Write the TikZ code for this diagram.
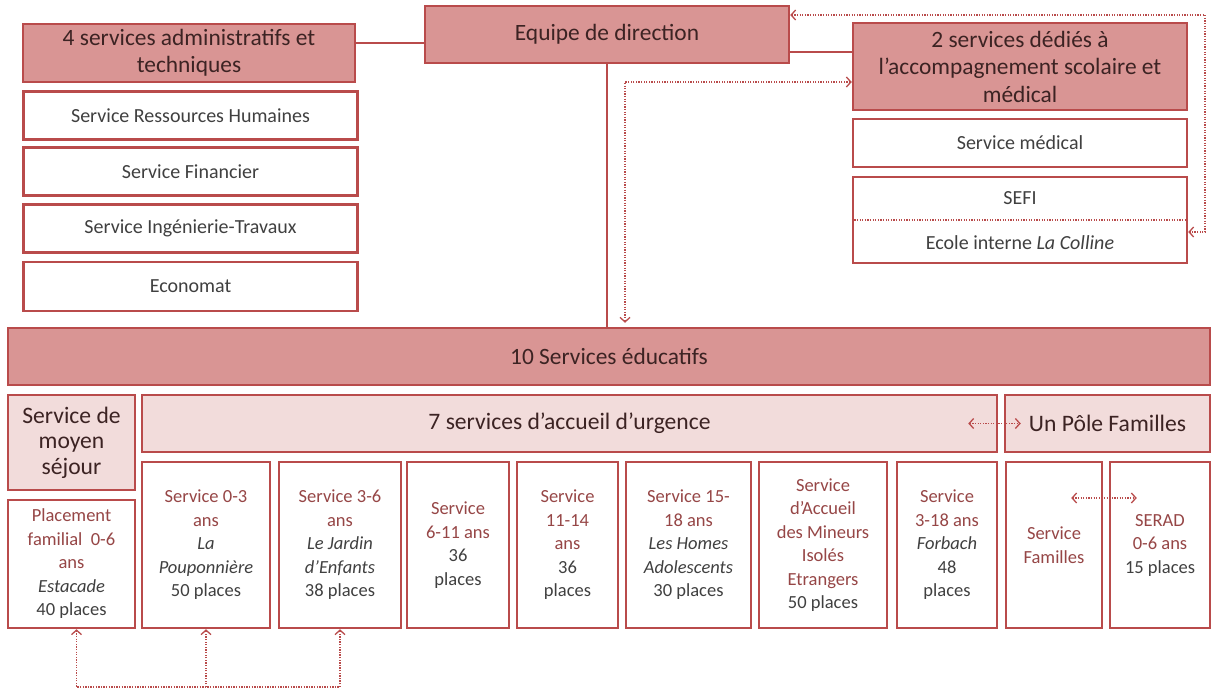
\documentclass[tikz,border=0pt]{standalone}
\usepackage{fontspec}
\setmainfont{Carlito}
\definecolor{boxred}{RGB}{185,75,75}
\definecolor{headpink}{RGB}{217,149,148}
\definecolor{lightpink}{RGB}{242,220,219}
\definecolor{headtext}{RGB}{60,35,35}
\definecolor{leafred}{RGB}{150,70,70}
\definecolor{darktext}{RGB}{64,64,64}
\usetikzlibrary{arrows.meta, calc}

\begin{document}
\begin{tikzpicture}[x=1pt, y=-1pt,
  >={Straight Barb[length=4.5pt, width=10pt]},
  box/.style={draw=boxred, line width=2.5pt, inner sep=0pt, align=center},
  headbox/.style={box, fill=headpink, text=headtext, font=\fontsize{23.4}{27.5}\selectfont},
  groupbox/.style={box, fill=lightpink, text=headtext, font=\fontsize{23.6}{25.5}\selectfont},
  adminbox/.style={box, fill=white, text=darktext, minimum width=334pt, minimum height=48pt, font=\fontsize{20}{23}\selectfont},
  boxtext/.style={text=darktext, inner sep=0pt, font=\fontsize{20}{23}\selectfont},
  leafbox/.style={box, fill=white, text=leafred, minimum height=166pt, font=\fontsize{18.5}{23.5}\selectfont},
  link/.style={draw=boxred, line width=1.6pt},
  dotlink/.style={draw=boxred, line width=1.3pt, dash pattern=on 1.3pt off 1.3pt}
]
  \fill[white] (0, 0) rectangle (1212, 690);
  \useasboundingbox (0, 0) rectangle (1212, 690);

  \node[headbox, minimum width=332pt, minimum height=58pt] (adm) at (189, 53) {4 services administratifs et\\techniques};
  \node[adminbox] (rh) at (190.5, 115.5) {Service Ressources Humaines};
  \node[adminbox] (fin) at (190.5, 171.5) {Service Financier};
  \node[adminbox] (ing) at (190.5, 228.5) {Service Ingénierie-Travaux};
  \node[adminbox, minimum height=49pt] (eco) at (190.5, 286.5) {Economat};

  \node[headbox, minimum width=364pt, minimum height=57pt] (dir) at (607, 34.5) {Equipe de direction};

  \node[headbox, minimum width=334pt, minimum height=87pt] (scol) at (1020, 66.5) {2 services dédiés à\\l’accompagnement scolaire et\\médical};
  \node[adminbox] (med) at (1020, 143) {Service médical};
  \node[adminbox, minimum height=86pt] (sefi) at (1020, 220) {};
  \node[boxtext] (sefit) at (1020, 198) {SEFI};
  \node[boxtext] (ecole) at (1020, 243) {Ecole interne \textit{La Colline}};
  \draw[dotlink] (sefi.west) -- (sefi.east);

  \node[headbox, minimum width=1202pt, minimum height=57pt] (ten) at (609, 356.5) {10 Services éducatifs};
  \node[groupbox, minimum width=127pt, minimum height=95pt] (moyen) at (71.5, 442.5) {Service de\\moyen\\séjour};
  \node[groupbox, minimum width=855pt, minimum height=57pt] (urg) at (569.5, 423.5) {7 services d’accueil d’urgence};
  \node[groupbox, minimum width=205pt, minimum height=57pt] (pole) at (1107.5, 423.5) {Un Pôle Familles};

  \node[leafbox, minimum width=127pt, minimum height=128pt] (plac) at (71.5, 564) {Placement\\familial\ \ 0-6\\ans\\\textcolor{darktext}{\textit{Estacade}}\\\textcolor{darktext}{40 places}};
  \node[leafbox, minimum width=128pt] (s03) at (206, 545) {Service 0-3\\ans\\\textcolor{darktext}{\textit{La}}\\\textcolor{darktext}{\textit{Pouponnière}}\\\textcolor{darktext}{50 places}};
  \node[leafbox, minimum width=122pt] (s36) at (340, 545) {Service 3-6\\ans\\\textcolor{darktext}{\textit{Le Jardin}}\\\textcolor{darktext}{\textit{d’Enfants}}\\\textcolor{darktext}{38 places}};
  \node[leafbox, minimum width=102pt] (s611) at (458, 545) {Service\\6-11 ans\\\textcolor{darktext}{36}\\\textcolor{darktext}{places}};
  \node[leafbox, minimum width=101pt] (s1114) at (567.5, 545) {Service\\11-14\\ans\\\textcolor{darktext}{36}\\\textcolor{darktext}{places}};
  \node[leafbox, minimum width=125pt] (s1518) at (688.5, 545) {Service 15-\\18 ans\\\textcolor{darktext}{\textit{Les Homes}}\\\textcolor{darktext}{\textit{Adolescents}}\\\textcolor{darktext}{30 places}};
  \node[leafbox, minimum width=128pt] (mie) at (823, 545) {Service\\d’Accueil\\des Mineurs\\Isolés\\Etrangers\\\textcolor{darktext}{50 places}};
  \node[leafbox, minimum width=100pt] (forb) at (947, 545) {Service\\3-18 ans\\\textcolor{darktext}{\textit{Forbach}}\\\textcolor{darktext}{48}\\\textcolor{darktext}{places}};
  \node[leafbox, minimum width=96pt] (fam) at (1054, 545) {Service\\Familles};
  \node[leafbox, minimum width=100pt] (serad) at (1160, 545) {SERAD\\0-6 ans\\\textcolor{darktext}{15 places}};

  \coordinate (ya) at (0, 43);
  \coordinate (yb) at (0, 52);
  \coordinate (dv) at (625, 82);
  \coordinate (tr) at (1205, 15);
  \coordinate (br) at (1205, 232);
  \coordinate (yl) at (0, 687);

  \draw[link] (adm.east |- ya) -- (dir.west |- ya);
  \draw[link] (dir.east |- yb) -- (scol.west |- yb);
  \draw[link] (dir.south) -- (dir.south |- ten.north);
  \draw[dotlink, <->, shorten >=4pt] (scol.west |- dv) -- (dv) -- (dv |- ten.north);
  \draw[dotlink, <->] (dir.east |- tr) -- (tr) -- (br) -- (sefi.east |- br);

  \draw[dotlink, <->] ([xshift=-30pt]urg.east) -- ([xshift=17pt]pole.west);
  \draw[dotlink, <->] ([xshift=-32pt, yshift=47pt]fam.east) -- ([xshift=28pt, yshift=47pt]serad.west);

  \draw[dotlink, <->] ([xshift=5pt]plac.south) -- ([xshift=5pt]plac.south |- yl) -- (s36.south |- yl) -- (s36.south);
  \draw[dotlink, ->] (s03.south |- yl) -- (s03.south);
\end{tikzpicture}
\end{document}
